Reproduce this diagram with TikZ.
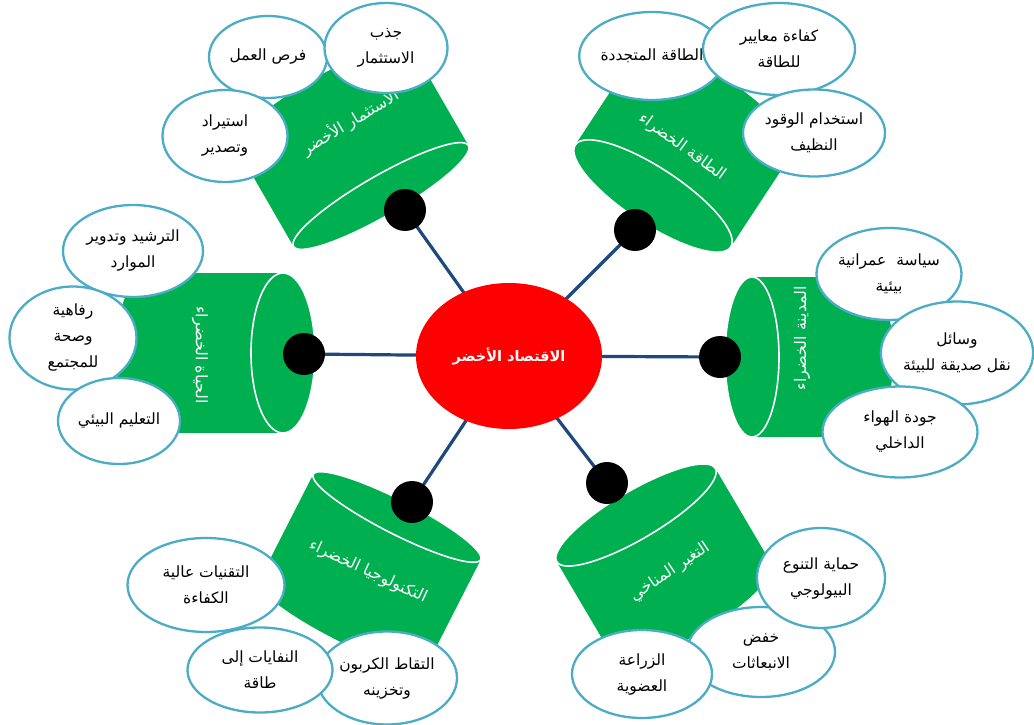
\documentclass[tikz,border=0pt]{standalone}
\usepackage{fontspec}
\usetikzlibrary{shapes.geometric}
\TeXXeTstate=1
\newfontfamily\arabicfont[Script=Arabic]{DejaVu Sans}
\newcommand\artext[1]{{\arabicfont\beginR #1\endR}}
\definecolor{cangreen}{RGB}{0,176,80}
\definecolor{hubred}{RGB}{255,0,0}
\definecolor{rimblue}{RGB}{75,172,198}
\definecolor{spokeblue}{RGB}{31,73,125}
\pgfdeclarelayer{back}
\pgfdeclarelayer{mid}
\pgfsetlayers{back,mid,main}

% green can: #1,#2 centre of the front face, #3 axis angle (pointing away
% from the hub), #4 radius, #5 depth of the elliptic faces, #6 length
\newcommand\greencan[6]{%
  \begin{scope}[shift={(#1,#2)},rotate=#3]
    \fill[cangreen] (0,-#4) rectangle (#6,#4);
    \fill[cangreen] (#6,0) ellipse[x radius=#5,y radius=#4];
    \fill[cangreen] (0,0) ellipse[x radius=#5,y radius=#4];
    \draw[white,line width=1.6pt] (0,0) ellipse[x radius=#5,y radius=#4];
  \end{scope}}

\begin{document}
\begin{tikzpicture}[x=1pt,y=-1pt,
  bubble/.style={ellipse,draw=rimblue,line width=2.3pt,fill=white,inner sep=0pt,
    align=center,text=black,font=\fontsize{15.5}{26}\selectfont},
  canlabel/.style={text=white,inner sep=0pt,font=\fontsize{16}{18}\selectfont},
  dotnode/.style={circle,fill=black,minimum size=42pt,inner sep=0pt},
  spoke/.style={draw=spokeblue,line width=3.2pt},
  hubnode/.style={ellipse,fill=hubred,minimum width=186pt,minimum height=146pt,
    inner sep=0pt,text=white,font=\bfseries\fontsize{14.5}{17}\selectfont}]
\useasboundingbox (0,0) rectangle (1034,725);

% the six cans
\begin{pgfonlayer}{back}
  \greencan{381}{196}{120}{101}{20}{115}
  \greencan{653}{196}{56.7}{93}{28}{110}
  \greencan{283}{353}{180}{80}{32}{135}
  \greencan{752}{357}{0}{80}{27}{114}
  \greencan{397}{517}{-117}{94}{17}{120}
  \greencan{636}{515}{-59.5}{92}{24}{110}
\end{pgfonlayer}

% hub and joints
\node[hubnode] (hub) at (509,356) {\artext{الاقتصاد الأخضر}};
\node[dotnode] (dinv) at (405,210) {};
\node[dotnode] (dnrg) at (635,230) {};
\node[dotnode] (dlif) at (304,354) {};
\node[dotnode] (dcty) at (720,357) {};
\node[dotnode] (dtec) at (412,502) {};
\node[dotnode] (dclm) at (607,483) {};

\begin{pgfonlayer}{mid}
  \foreach \j in {dinv,dnrg,dlif,dcty,dtec,dclm}
    \draw[spoke] (hub.center) -- (\j.center);
\end{pgfonlayer}

% can titles
\node[canlabel,rotate=31]  (linv) at (350,122) {\artext{الاستثمار الأخضر}};
\node[canlabel,rotate=-36] (lnrg) at (682,147) {\artext{الطاقة الخضراء}};
\node[canlabel,rotate=-90] (llif) at (200,355) {\artext{الحياة الخضراء}};
\node[canlabel,rotate=90]  (lcty) at (802,338) {\artext{المدينة الخضراء}};
\node[canlabel,rotate=-25] (ltec) at (368,572) {\artext{التكنولوجيا الخضراء}};
\node[canlabel,rotate=34]  (lclm) at (670,572) {\artext{التغير المناخي}};

% green investment
\node[bubble,minimum width=118pt,minimum height=82pt] (b11) at (268,57) {\artext{فرص العمل}};
\node[bubble,minimum width=123pt,minimum height=90pt] (b12) at (386,48) {\artext{جذب}\\\artext{الاستثمار}};
\node[bubble,minimum width=125pt,minimum height=92pt] (b13) at (225,136) {\artext{استيراد}\\\artext{وتصدير}};

% green energy
\node[bubble,minimum width=135pt,minimum height=88pt] (b21) at (652,56) {\artext{الطاقة المتجددة}};
\node[bubble,minimum width=152pt,minimum height=92pt] (b22) at (779,49) {\artext{كفاءة معايير}\\\artext{للطاقة}};
\node[bubble,minimum width=142pt,minimum height=87pt] (b23) at (814,133) {\artext{استخدام الوقود}\\\artext{النظيف}};

% green life
\node[bubble,minimum width=140pt,minimum height=92pt] (b31) at (133,251) {\artext{الترشيد وتدوير}\\\artext{الموارد}};
\node[bubble,minimum width=127pt,minimum height=103pt] (b32) at (73,338) {\artext{رفاهية}\\\artext{وصحة}\\\artext{للمجتمع}};
\node[bubble,minimum width=122pt,minimum height=86pt] (b33) at (119,421) {\artext{التعليم البيئي}};

% green city
\node[bubble,minimum width=145pt,minimum height=92pt] (b41) at (889,274) {\artext{سياسة\ \ عمرانية}\\\artext{بيئية}};
\node[bubble,minimum width=151pt,minimum height=103pt] (b42) at (957,353) {\artext{وسائل}\\\artext{نقل صديقة للبيئة}};
\node[bubble,minimum width=155pt,minimum height=91pt] (b43) at (900,432) {\artext{جودة الهواء}\\\artext{الداخلي}};

% green technology
\node[bubble,minimum width=157pt,minimum height=94pt] (b51) at (206,585) {\artext{التقنيات عالية}\\\artext{الكفاءة}};
\node[bubble,minimum width=140pt,minimum height=93pt] (b53) at (387,678) {\artext{التقاط الكربون}\\\artext{وتخزينه}};
\node[bubble,minimum width=145pt,minimum height=85pt] (b52) at (260,670) {\artext{النفايات إلى}\\\artext{طاقة}};

% climate change
\node[bubble,minimum width=148pt,minimum height=90pt] (b62) at (761,652) {\artext{خفض}\\\artext{الانبعاثات}};
\node[bubble,minimum width=128pt,minimum height=100pt] (b61) at (821,578) {\artext{حماية التنوع}\\\artext{البيولوجي}};
\node[bubble,minimum width=140pt,minimum height=88pt] (b63) at (642,674) {\artext{الزراعة}\\\artext{العضوية}};
\end{tikzpicture}
\end{document}
